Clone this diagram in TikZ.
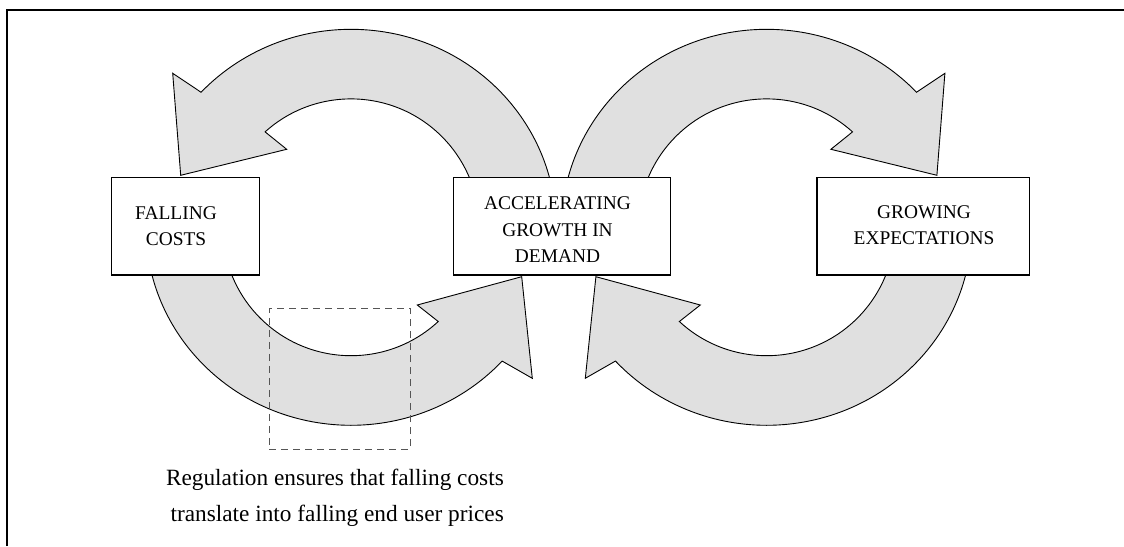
\documentclass[tikz,border=0pt]{standalone}
\usepackage{fontspec}
\setmainfont{Liberation Serif}
\definecolor{bandgrey}{HTML}{E0E0E0}
\definecolor{dashgrey}{HTML}{555555}
\tikzset{
  band/.style={fill=bandgrey, draw=black, line width=0.9pt},
  factor/.style={draw=black, fill=white, line width=1.4pt, inner sep=0pt, minimum height=97.7pt},
  factortext/.style={align=center, inner sep=0pt, font=\fontsize{19.4}{26.5}\selectfont},
  note/.style={align=right, inner sep=0pt, font=\fontsize{23.3}{36}\selectfont},
  focus/.style={draw=dashgrey, line width=1pt, dash pattern=on 7pt off 5pt, inner sep=0pt},
  frame/.style={draw=black, line width=2pt},
  % two curved block arrows forming one reinforcing loop
  feedback loop/.pic={
    % upper band, anticlockwise from the right-hand box, head pointing down
    \path[band] (-5:205 and 198)
      arc[start angle=-5, end angle=137, x radius=205, y radius=198]
      -- (-178.3,154) -- (-170.3,52) -- (-64.3,78) -- (132:128.4)
      arc[start angle=132, end angle=-5, radius=128.4] -- cycle;
    % lower band, anticlockwise from the left-hand box, head pointing up
    \path[band] (175:205 and 198)
      arc[start angle=175, end angle=317.5, x radius=205, y radius=198]
      -- (181.3,-151) -- (170.7,-49.4) -- (66.3,-77.7) -- (312.8:128.4)
      arc[start angle=312.8, end angle=175, radius=128.4] -- cycle;
  }
}
\begin{document}
\begin{tikzpicture}[x=1pt, y=1pt]
  \useasboundingbox (0,0) rectangle (1124,-546);

  % partial frame
  \draw[frame] (6.7,-546) -- (6.7,-10) -- (1124,-10);

  % the two loops, the right one mirrored
  \pic (leftloop) at (351,-227.3) {feedback loop};
  \pic[xscale=-1] (rightloop) at (766.6,-227.3) {feedback loop};

  % factor boxes
  \node[factor, minimum width=147.6pt] (costs) at (185.5,-226.2) {};
  \node[factortext] (costslabel) at (176,-226.1) {FALLING\\COSTS};

  \node[factor, minimum width=217.4pt] (demand) at (562,-226.2) {};
  \node[factortext] (demandlabel) at (557.5,-230) {ACCELERATING\\GROWTH IN\\DEMAND};

  \node[factor, minimum width=212.8pt] (expect) at (923.3,-226.2) {};
  \node[factortext] (expectlabel) at (924,-225.1) {GROWING\\EXPECTATIONS};

  % regulation zone
  \node[focus, minimum width=140.7pt, minimum height=141pt] (regzone) at (339.65,-378.8) {};
  \node[note, anchor=east] (regnote) at (504,-497.6)
    {Regulation ensures that falling costs\\translate into falling end user prices};
\end{tikzpicture}
\end{document}
